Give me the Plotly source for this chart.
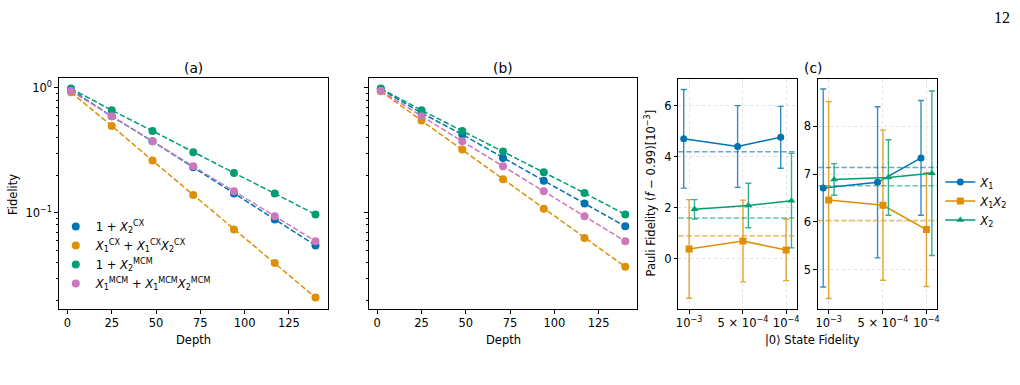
import plotly.graph_objects as go

# ---------------- data ----------------
depth = [2, 25, 48, 71, 94, 117, 140]

# panel (a)
a_cx_one_x2 = [0.970, 0.593, 0.374, 0.232, 0.143, 0.0885, 0.0548]
a_cx_x1_x1x2 = [0.923, 0.497, 0.262, 0.139, 0.0736, 0.0396, 0.0210]
a_mcm_one_x2 = [0.990, 0.663, 0.453, 0.306, 0.209, 0.143, 0.0970]
a_mcm_x1_x1x2 = [0.946, 0.593, 0.374, 0.236, 0.149, 0.0940, 0.0593]

# panel (b)
b_cx_one_x2 = [0.980, 0.630, 0.424, 0.275, 0.181, 0.119, 0.0780]
b_cx_x1_x1x2 = [0.940, 0.548, 0.321, 0.186, 0.108, 0.0630, 0.0370]
b_mcm_one_x2 = [0.990, 0.663, 0.453, 0.310, 0.211, 0.144, 0.0970]
b_mcm_x1_x1x2 = [0.950, 0.593, 0.374, 0.236, 0.149, 0.0940, 0.0593]

series_labels = [
    "1 + <i>X</i><sub>2</sub><sup>CX</sup>",
    "<i>X</i><sub>1</sub><sup>CX</sup> + <i>X</i><sub>1</sub><sup>CX</sup><i>X</i><sub>2</sub><sup>CX</sup>",
    "1 + <i>X</i><sub>2</sub><sup>MCM</sup>",
    "<i>X</i><sub>1</sub><sup>MCM</sup> + <i>X</i><sub>1</sub><sup>MCM</sup><i>X</i><sub>2</sub><sup>MCM</sup>",
]

# panel (c)
state_fid = [1e-3, 5e-4, 1e-4]
c_labels = ["<i>X</i><sub>1</sub>", "<i>X</i><sub>1</sub><i>X</i><sub>2</sub>", "<i>X</i><sub>2</sub>"]

c1_x1 = [4.70, 4.40, 4.76]
c1_x1_err = [1.93, 1.60, 1.21]
c1_x1x2 = [0.39, 0.70, 0.35]
c1_x1x2_err = [1.93, 1.60, 1.20]
c1_x2 = [1.94, 2.09, 2.28]
c1_x2_err = [0.38, 0.87, 1.85]
c1_ref = [4.19, 0.91, 1.60]

c2_x1 = [6.71, 6.83, 7.34]
c2_x1_err = [2.07, 1.58, 1.20]
c2_x1x2 = [6.46, 6.35, 5.84]
c2_x1x2_err = [2.06, 1.57, 1.19]
c2_x2 = [6.89, 6.93, 7.02]
c2_x2_err = [0.33, 0.79, 1.72]
c2_ref = [7.14, 6.03, 6.76]

# ---------------- style ----------------
W, H = 1020, 385
FONT = "DejaVu Sans"
FS = 11.5
BLUE, ORANGE, GREEN, PINK = "#0173b2", "#de8f05", "#029e73", "#cc78bc"
colors4 = [BLUE, ORANGE, GREEN, PINK]
colors3 = [BLUE, ORANGE, GREEN]
rgba3 = ["rgba(1,115,178,{a})", "rgba(222,143,5,{a})", "rgba(2,158,115,{a})"]


def px(x):
    return x / W


def py(y):
    return 1 - y / H


fig = go.Figure()

# panels (a) and (b)
for k, (ser, ax) in enumerate([
    ([a_cx_one_x2, a_cx_x1_x1x2, a_mcm_one_x2, a_mcm_x1_x1x2], ("x", "y")),
    ([b_cx_one_x2, b_cx_x1_x1x2, b_mcm_one_x2, b_mcm_x1_x1x2], ("x2", "y2")),
]):
    for i, vals in enumerate(ser):
        fig.add_trace(go.Scatter(
            x=depth, y=vals, mode="lines",
            line=dict(color=colors4[i], width=1.5, dash="5.5px,2.4px"),
            xaxis=ax[0], yaxis=ax[1], showlegend=False, hoverinfo="skip"))
        fig.add_trace(go.Scatter(
            x=depth, y=vals, mode="markers",
            marker=dict(color=colors4[i], size=8, line=dict(width=0)),
            name=series_labels[i], xaxis=ax[0], yaxis=ax[1],
            showlegend=(k == 0), legend="legend"))

# panel (c)
offset = 5e-5
offs = [offset, 0.0, -offset]
symbols = ["circle", "square", "triangle-up"]
for ax, sets in [
    (("x3", "y3"), [(c1_x1, c1_x1_err), (c1_x1x2, c1_x1x2_err), (c1_x2, c1_x2_err)]),
    (("x4", "y4"), [(c2_x1, c2_x1_err), (c2_x1x2, c2_x1x2_err), (c2_x2, c2_x2_err)]),
]:
    for i, (vals, errs) in enumerate(sets):
        fig.add_trace(go.Scatter(
            x=[s + offs[i] for s in state_fid], y=vals, mode="lines+markers",
            line=dict(color=colors3[i], width=1.5),
            marker=dict(color=colors3[i], symbol=symbols[i], size=7, line=dict(width=0)),
            error_y=dict(type="data", array=errs, visible=True,
                         color=rgba3[i].format(a=0.8), thickness=1.4, width=3),
            name=c_labels[i], xaxis=ax[0], yaxis=ax[1],
            showlegend=(ax[0] == "x4"), legend="legend2"))

for ref_vals, ax in [(c1_ref, ("x3", "y3")), (c2_ref, ("x4", "y4"))]:
    for i, v in enumerate(ref_vals):
        fig.add_shape(type="line", xref=f"{ax[0]} domain", yref=ax[1],
                      x0=0, x1=1, y0=v, y1=v,
                      line=dict(color=rgba3[i].format(a=0.6), width=1.5, dash="5.5px,2.4px"))

# ---------------- axes ----------------
TICKFONT = dict(family=FONT, size=FS, color="black")
common = dict(showline=True, mirror=True, linecolor="black", linewidth=1,
              ticks="outside", ticklen=3.5, tickwidth=0.8, tickcolor="black",
              tickfont=TICKFONT, zeroline=False)

ya = [py(309), py(78)]
yc = [py(309), py(79)]

minor_log = [m * 10 ** e for e in (-2, -1) for m in range(2, 10)]

xdepth = dict(common, range=[-4.9, 146.9], tickvals=[0, 25, 50, 75, 100, 125], showgrid=False)
ylog = dict(common, type="log", range=[-1.77, 0.08], tickmode="array",
            tickvals=[0.1, 1], ticktext=["10<sup>−1</sup>", "10<sup>0</sup>"], showgrid=False,
            minor=dict(tickmode="array", tickvals=minor_log, ticks="outside",
                       ticklen=2, tickwidth=0.6, tickcolor="black", showgrid=False))

xc = dict(common, range=[1.1e-3, 0], tickmode="array", tickvals=state_fid,
          ticktext=["10<sup>−3</sup>", "5 × 10<sup>−4</sup>", "10<sup>−4</sup>"],
          showgrid=True, gridcolor="#e2e2e2", griddash="dot", gridwidth=0.7)
ycom = dict(common, showgrid=True, gridcolor="#e2e2e2", griddash="dot", gridwidth=0.7)

fig.update_layout(
    width=W, height=H, margin=dict(l=0, r=0, t=0, b=0),
    paper_bgcolor="white", plot_bgcolor="white",
    font=dict(family=FONT, size=FS, color="black"),
    xaxis=dict(xdepth, domain=[px(57), px(327)], anchor="y"),
    yaxis=dict(ylog, domain=ya, anchor="x"),
    xaxis2=dict(xdepth, domain=[px(368), px(638)], anchor="y2"),
    yaxis2=dict(ylog, domain=ya, anchor="x2", showticklabels=False),
    xaxis3=dict(xc, domain=[px(679), px(798)], anchor="y3"),
    yaxis3=dict(ycom, domain=yc, anchor="x3", range=[-1.96, 7.04], tickvals=[0, 2, 4, 6]),
    xaxis4=dict(xc, domain=[px(819), px(939)], anchor="y4"),
    yaxis4=dict(ycom, domain=yc, anchor="x4", range=[4.18, 8.99], tickvals=[5, 6, 7, 8]),
    legend=dict(x=px(54), y=py(212), xanchor="left", yanchor="top",
                bgcolor="rgba(0,0,0,0)", font=dict(family=FONT, size=FS),
                itemwidth=30, tracegroupgap=0),
    legend2=dict(x=px(942), y=py(201), xanchor="left", yanchor="middle",
                 bgcolor="rgba(0,0,0,0)", font=dict(family=FONT, size=FS),
                 itemwidth=30),
    showlegend=True,
)

texts = [
    ("(a)", 192, 68, 0, 13.8),
    ("(b)", 503, 68, 0, 13.8),
    ("(c)", 814, 68, 0, 13.8),
    ("Depth", 192, 340, 0, FS),
    ("Depth", 503, 340, 0, FS),
    ("Fidelity", 11, 194, -90, FS),
    ("Pauli Fidelity (<i>f</i> − 0.99)[10<sup>−3</sup>]", 652, 193, -90, FS),
    ("|0⟩ State Fidelity", 814, 340, 0, FS),
]
for t, x, y, ang, sz in texts:
    fig.add_annotation(text=t, x=px(x), y=py(y), xref="paper", yref="paper",
                       showarrow=False, xanchor="center", yanchor="middle",
                       textangle=ang, font=dict(family=FONT, size=sz, color="black"))

fig.add_annotation(text="12", x=px(1004), y=py(17), xref="paper", yref="paper",
                   showarrow=False, xanchor="center", yanchor="middle",
                   font=dict(family="Liberation Serif", size=16, color="black"))

fig.write_html("out.html")
